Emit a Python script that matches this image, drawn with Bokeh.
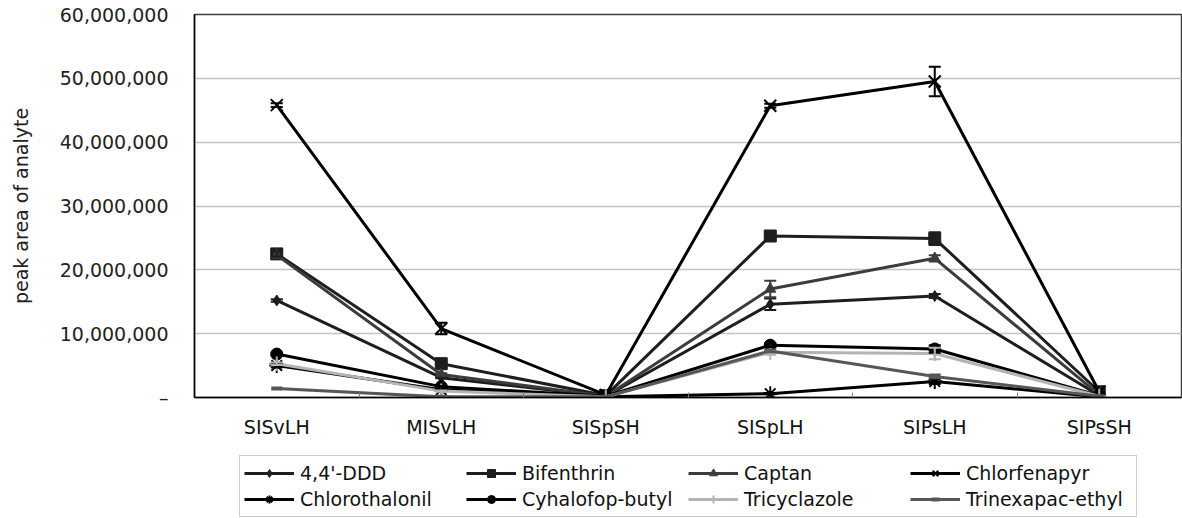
from bokeh.plotting import figure
from bokeh.layouts import column
from bokeh.models import (Range1d, FixedTicker, Legend, LegendItem, Whisker,
                          ColumnDataSource, TeeHead)
from bokeh.embed import file_html
from bokeh.resources import INLINE

# ---------------- data ----------------
categories = ["SISvLH", "MISvLH", "SISpSH", "SISpLH", "SIPsLH", "SIPsSH"]

series_names = ["4,4'-DDD", "Bifenthrin", "Captan", "Chlorfenapyr",
                "Chlorothalonil", "Cyhalofop-butyl", "Tricyclazole", "Trinexapac-ethyl"]

ddd_vals = [15.2e6, 3.1e6, 0.2e6, 14.6e6, 15.9e6, 0.3e6]
ddd_err = [0.2e6, 0.1e6, 0, 0.9e6, 0.3e6, 0]

bifenthrin_vals = [22.5e6, 5.3e6, 0.3e6, 25.3e6, 24.9e6, 0.9e6]
bifenthrin_err = [0.4e6, 0.2e6, 0, 0.4e6, 1.0e6, 0]

captan_vals = [22.3e6, 3.6e6, 0.2e6, 17.0e6, 21.8e6, 0.4e6]
captan_err = [0, 0.2e6, 0, 1.3e6, 0.5e6, 0]

chlorfenapyr_vals = [45.8e6, 10.8e6, 0.4e6, 45.7e6, 49.5e6, 0.9e6]
chlorfenapyr_err = [0.3e6, 0.9e6, 0, 0.3e6, 2.3e6, 0]

chlorothalonil_vals = [5.0e6, 1.2e6, 0.1e6, 0.6e6, 2.5e6, 0.1e6]
chlorothalonil_err = [0.3e6, 0.1e6, 0, 0.1e6, 0.4e6, 0]

cyhalofop_vals = [6.8e6, 1.7e6, 0.2e6, 8.2e6, 7.6e6, 0.3e6]
cyhalofop_err = [0.2e6, 0.1e6, 0, 0.3e6, 0.6e6, 0]

tricyclazole_vals = [5.3e6, 1.0e6, 0.1e6, 7.1e6, 6.9e6, 0.2e6]
tricyclazole_err = [0.2e6, 0.1e6, 0, 0.4e6, 0.9e6, 0]

trinexapac_vals = [1.4e6, 0.1e6, 0.1e6, 7.3e6, 3.3e6, 0.2e6]
trinexapac_err = [0, 0, 0, 0.2e6, 0.3e6, 0]

y_ticks = [0, 10_000_000, 20_000_000, 30_000_000, 40_000_000, 50_000_000, 60_000_000]

all_vals = [ddd_vals, bifenthrin_vals, captan_vals, chlorfenapyr_vals,
            chlorothalonil_vals, cyhalofop_vals, tricyclazole_vals, trinexapac_vals]
all_errs = [ddd_err, bifenthrin_err, captan_err, chlorfenapyr_err,
            chlorothalonil_err, cyhalofop_err, tricyclazole_err, trinexapac_err]

# ---------------- styles ----------------
colors = ["#1e1e1e", "#1e1e1e", "#3c3c3c", "#000000",
          "#000000", "#000000", "#b4b4b4", "#575757"]
markers = ["diamond", "square", "triangle", "x", "asterisk", "circle", "cross", "dash"]
msizes = [11, 12, 11, 17, 15, 12, 15, 11]
mlw = [1, 1, 1, 2, 2, 1, 2, 4]

FONT = "DejaVu Sans"

p = figure(width=1182, height=440, output_backend="svg", toolbar_location=None,
           x_range=Range1d(0, len(categories)), y_range=Range1d(0, 60_000_000),
           min_border_left=194, min_border_right=1, min_border_top=14,
           min_border_bottom=43)
p.background_fill_color = "white"
p.border_fill_color = "white"
p.outline_line_color = "#404040"
p.outline_line_width = 1.5

# x axis (categories at centres, ticks between categories)
xs = [i + 0.5 for i in range(len(categories))]
xa = p.xaxis[0]
xa.ticker = FixedTicker(ticks=xs, minor_ticks=list(range(1, len(categories))))
xa.major_label_overrides = {x: c for x, c in zip(xs, categories)}
xa.major_tick_in = 0
xa.major_tick_out = 0
xa.minor_tick_in = 5
xa.minor_tick_out = 0
xa.minor_tick_line_color = "#808080"
xa.axis_line_color = "#000000"
xa.axis_line_width = 1.5
xa.major_label_text_font = FONT
xa.major_label_text_font_size = "19px"
xa.major_label_text_color = "#111111"
xa.major_label_standoff = 18

# y axis
ya = p.yaxis[0]
ya.ticker = FixedTicker(ticks=y_ticks, minor_ticks=[])
ya.major_label_overrides = {t: ("\u2013" if t == 0 else f"{t:,}") for t in y_ticks}
ya.major_tick_in = 0
ya.major_tick_out = 0
ya.axis_line_color = "#000000"
ya.axis_line_width = 1.5
ya.major_label_text_font = FONT
ya.major_label_text_font_size = "19px"
ya.major_label_text_color = "#222222"
ya.major_label_standoff = 26
ya.axis_label = "peak area of analyte"
ya.axis_label_text_font = FONT
ya.axis_label_text_font_size = "19px"
ya.axis_label_text_font_style = "normal"
ya.axis_label_text_color = "#222222"
ya.axis_label_standoff = 25

p.xgrid.grid_line_color = None
p.ygrid.grid_line_color = "#c4c4c4"
p.ygrid.grid_line_width = 1.5

# legend strip below the chart; its view range (0..1) hides the series' points
lp = figure(width=1182, height=78, output_backend="svg", toolbar_location=None,
            x_axis_type=None, y_axis_type=None,
            x_range=Range1d(0, 1), y_range=Range1d(0, 1),
            min_border_left=0, min_border_right=0, min_border_top=0,
            min_border_bottom=0)
lp.outline_line_color = None
lp.xgrid.grid_line_color = None
lp.ygrid.grid_line_color = None
lp.background_fill_color = "white"
lp.border_fill_color = "white"

items = []
for name, vals, errs, col, mk, ms, lw in zip(series_names, all_vals, all_errs,
                                             colors, markers, msizes, mlw):
    src = ColumnDataSource(dict(x=xs, y=vals))
    p.line("x", "y", source=src, line_color=col, line_width=3)
    p.scatter("x", "y", source=src, marker=mk, size=ms,
              fill_color=col, line_color=col, line_width=lw)
    eb = [(x, v, e) for x, v, e in zip(xs, vals, errs) if e > 0]
    if eb:
        wsrc = ColumnDataSource(dict(base=[a for a, _, _ in eb],
                                     lower=[v - e for _, v, e in eb],
                                     upper=[v + e for _, v, e in eb]))
        w = Whisker(source=wsrc, base="base", lower="lower", upper="upper",
                    line_color=col, line_width=2, level="glyph",
                    upper_head=TeeHead(size=12, line_color=col, line_width=2),
                    lower_head=TeeHead(size=12, line_color=col, line_width=2))
        p.add_layout(w)
    lr = lp.line("x", "y", source=src, line_color=col, line_width=3)
    sr = lp.scatter("x", "y", source=src, marker=mk, size=ms,
                    fill_color=col, line_color=col, line_width=lw)
    items.append(LegendItem(label=name, renderers=[lr, sr]))

legend = Legend(items=items, location=(45, 1), orientation="horizontal", ncols=4,
                label_text_font=FONT, label_text_font_size="19px",
                label_text_color="#111111",
                label_height=26, glyph_height=20, glyph_width=50,
                label_standoff=6, label_width=166, padding=4, spacing=0, margin=0,
                border_line_color="#a0a0a0", border_line_width=1,
                background_fill_color="white", background_fill_alpha=1.0)
lp.add_layout(legend)

layout = column(p, lp, spacing=0)
open("out.html", "w").write(file_html(layout, INLINE))
